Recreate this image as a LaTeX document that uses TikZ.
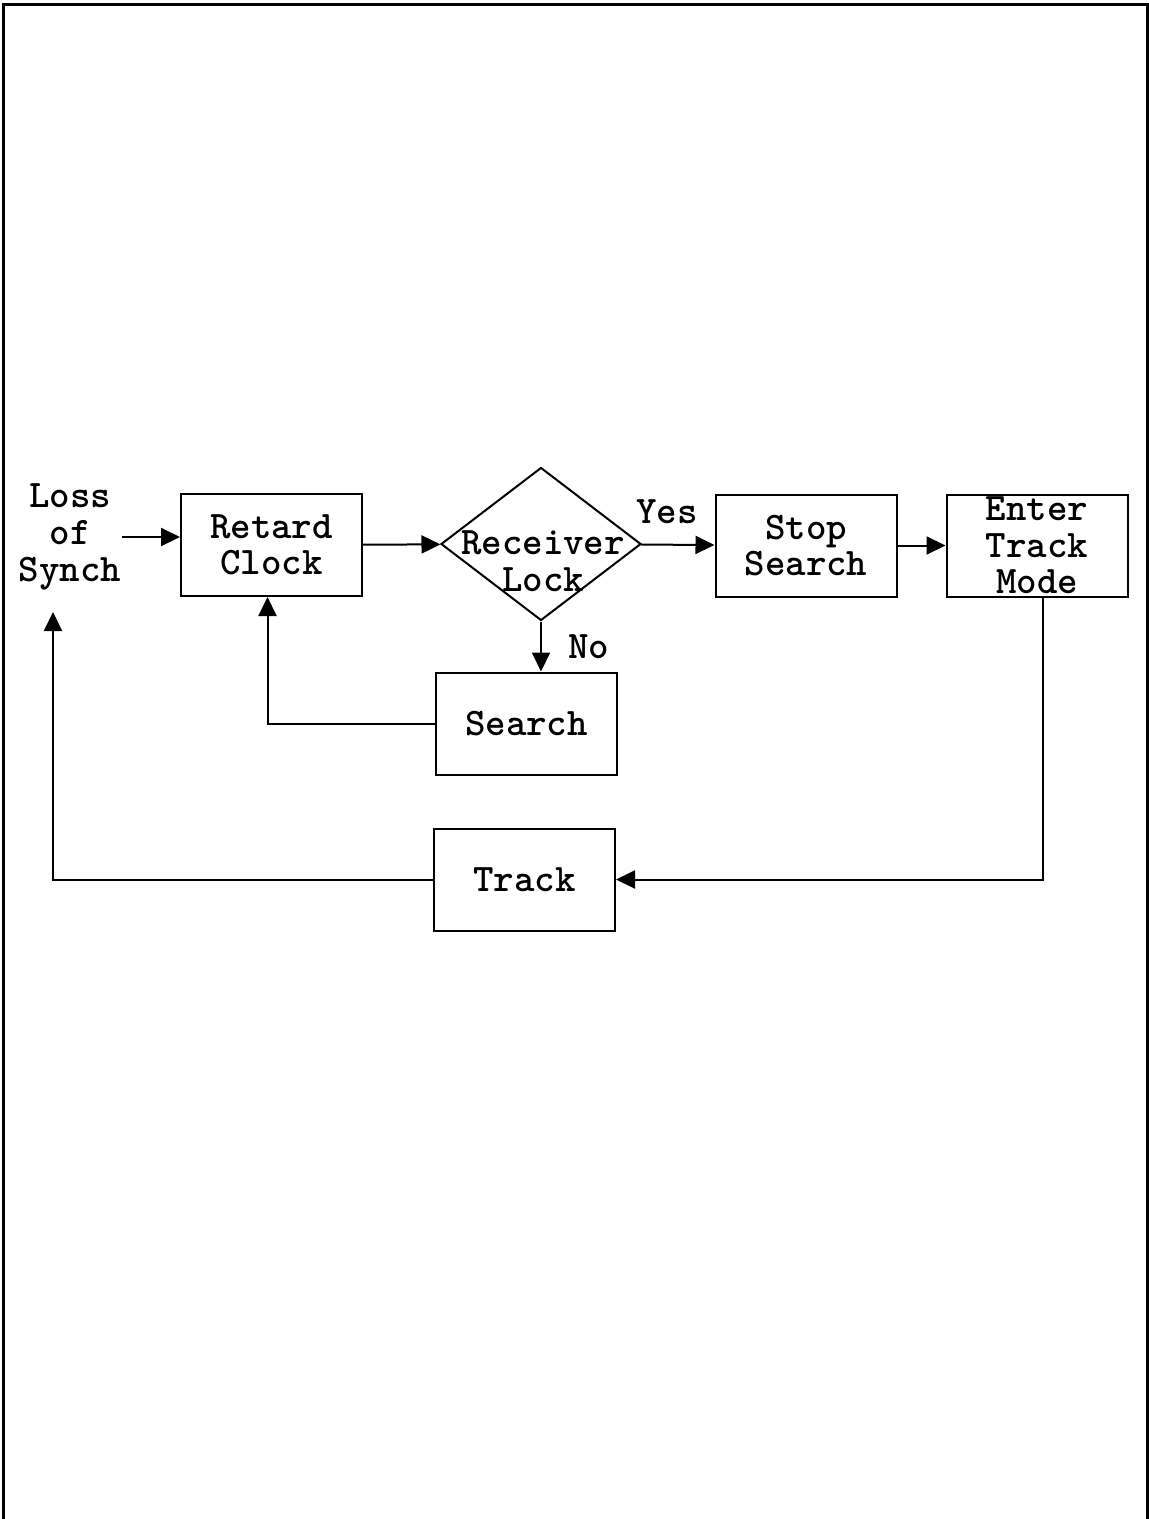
\documentclass[tikz,border=0pt]{standalone}
\usetikzlibrary{shapes.geometric,arrows.meta,positioning}
\begin{document}
\begin{tikzpicture}[x=0.5pt,y=-0.5pt,line width=1pt,
    font=\fontsize{19.5}{18.2}\selectfont\ttfamily\bfseries]
  \tikzstyle{block}=[draw,minimum width=90.5pt,minimum height=51pt,align=center,inner sep=0pt]
  \tikzstyle{decision}=[draw,diamond,minimum width=100pt,minimum height=76.5pt,inner sep=0pt]
  \tikzstyle{txt}=[align=center,inner sep=0pt]
  \tikzstyle{flow}=[-{Triangle[length=9.5pt,width=9pt]}]
  \useasboundingbox (0,0) rectangle (1149,1519);
  % page frame
  \draw[line width=1.5pt] (3,1519) -- (3,5) -- (1147,5) -- (1147,1519);
  % blocks
  \node[txt,font=\fontsize{19.5}{18.6}\selectfont\ttfamily\bfseries] (loss) at (70,537) {Loss\\of\\Synch};
  \node[block] (retard) at (271.5,545) {Retard\\Clock};
  \node[decision] (lock) at (541,544) {};
  \node[txt] (locktxt) at (543,561) {Receiver\\Lock};
  \node[block] (stop) at (806,545.5) {Stop\\Search};
  \node[block] (enter) at (1037,545.5) {Enter\\Track\\Mode};
  \node[block] (search) at (526.5,723.5) {Search};
  \node[block] (track) at (524.5,879.5) {Track};
  \coordinate (synchin) at (53,612);
  % connectors
  \draw[flow] (loss.east) -- (loss.east -| retard.west);
  \draw[flow] (retard) -- (lock);
  \draw[flow] (lock) -- node[pos=0.35,above=10pt,txt]{Yes} (stop);
  \draw[flow] (stop) -- (enter);
  \draw[flow] (lock.south) -- node[midway,right=13pt,txt]{No} (lock.south |- search.north);
  \draw[flow] (search.west) -| ([xshift=-2pt]retard.south);
  \draw[flow] ([xshift=3pt]enter.south) |- (track.east);
  \draw[flow] (track.west) -| (synchin);
\end{tikzpicture}
\end{document}
